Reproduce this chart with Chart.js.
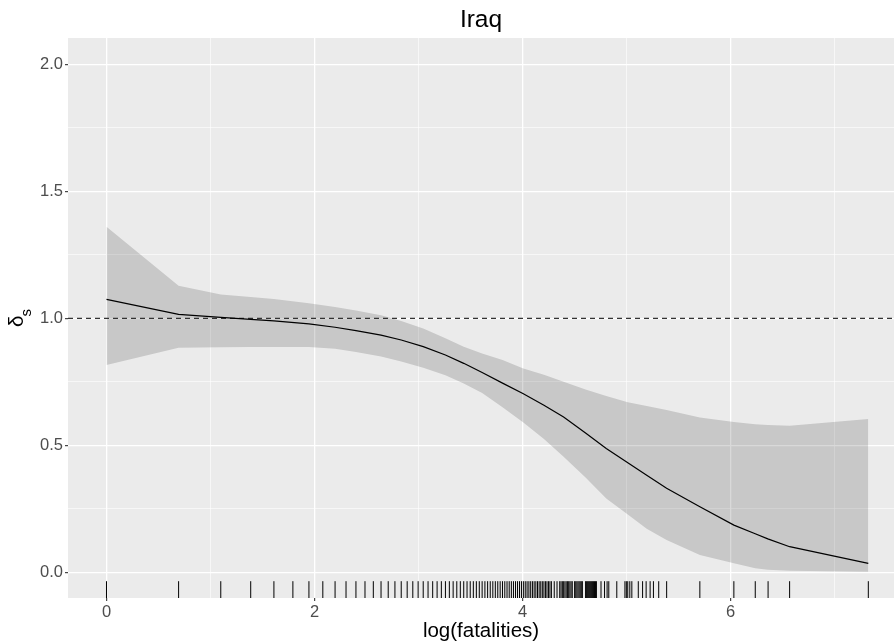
<!DOCTYPE html>
<html>
<head>
<meta charset="utf-8">
<script src="https://cdn.jsdelivr.net/npm/chart.js@4"></script>
<style>
    html, body { margin: 0; padding: 0; background: #ffffff; }
    #chart { display: block; }
</style>
</head>
<body>
<canvas id="chart" width="894" height="643"></canvas>
<script>
const TITLE = 'Iraq';
const X_TITLE = 'log(fatalities)';

// smoothed estimate and its band, read at the observed log(fatalities)
const curveX = [0.000, 0.693, 1.099, 1.386, 1.609, 1.946, 2.197, 2.398, 2.639, 2.833,
    3.045, 3.258, 3.434, 3.611, 3.807, 4.007, 4.205, 4.394, 4.605, 4.804,
    5.011, 5.193, 5.384, 5.704, 6.031, 6.236, 6.357, 6.567, 7.323];
const curveFit = [1.075, 1.016, 1.004, 0.996, 0.990, 0.978, 0.965, 0.952, 0.934, 0.915,
    0.889, 0.856, 0.823, 0.787, 0.745, 0.703, 0.658, 0.612, 0.549, 0.488,
    0.432, 0.382, 0.331, 0.258, 0.186, 0.152, 0.132, 0.101, 0.035];
const curveLower = [0.816, 0.884, 0.886, 0.887, 0.887, 0.887, 0.880, 0.868, 0.850, 0.830,
    0.806, 0.776, 0.744, 0.706, 0.650, 0.590, 0.525, 0.455, 0.373, 0.291,
    0.228, 0.172, 0.127, 0.068, 0.036, 0.016, 0.010, 0.006, 0.002];
const curveUpper = [1.361, 1.128, 1.094, 1.084, 1.076, 1.060, 1.045, 1.031, 1.012, 0.990,
    0.960, 0.922, 0.888, 0.862, 0.836, 0.803, 0.778, 0.750, 0.720, 0.694,
    0.670, 0.655, 0.639, 0.610, 0.592, 0.583, 0.580, 0.577, 0.604];

// observed fatality counts shown in the rug
const rugFatalities = [
    1, 2, 3, 4, 5, 6, 7, 8, 9, 10, 11, 12, 13, 14, 15, 16, 17, 18, 19, 20,
    21, 22, 23, 24, 25, 26, 27, 28, 29, 30, 31, 32, 33, 34, 35, 36, 37, 38, 39, 40,
    41, 42, 43, 44, 45, 46, 47, 48, 49, 50, 51, 52, 53, 54, 55, 56, 57, 58, 59, 60,
    61, 62, 63, 64, 65, 66, 67, 68, 69, 70, 71, 72, 74, 76, 78, 79, 80,
    81, 82, 83, 84, 85, 86, 87, 88, 90, 91, 92, 93, 94, 95, 96, 97,
    100, 101, 102, 103, 104, 105, 106, 107, 108, 109, 110, 111,
    116, 120, 123, 125, 135, 146, 148, 150, 153, 156,
    166, 173, 179, 186, 192, 202, 218, 300, 416, 511, 578, 711, 1515,
];

const referenceLevel = 1;

const xMajorTicks = [0, 2, 4, 6];
const xMinorTicks = [1, 3, 5, 7];
const yMajorTicks = [0, 0.5, 1, 1.5, 2];
const yMinorTicks = [0.25, 0.75, 1.25, 1.75];

const X_MIN = -0.37;
const X_MAX = 7.57;
const Y_MIN = -0.101;
const Y_MAX = 2.104;

const RUG_FRACTION = 0.03;
const FONT = '"Liberation Sans", Arial, sans-serif';

function points(xs, ys) {
    return xs.map((x, i) => ({ x, y: ys[i] }));
}

function gridFor(majors) {
    return {
        color: '#ffffff',
        lineWidth: (ctx) => (majors.includes(ctx.tick?.value) ? 1.3 : 0.6),
        drawTicks: true,
        tickLength: 3,
        tickWidth: 1.1,
        tickColor: (ctx) => (majors.includes(ctx.tick?.value) ? '#333333' : 'rgba(0,0,0,0)'),
    };
}

const ggDecor = {
    id: 'ggDecor',
    beforeDraw(chart) {
        const { ctx, chartArea: a } = chart;
        ctx.save();
        ctx.fillStyle = '#ffffff';
        ctx.fillRect(0, 0, chart.width, chart.height);
        ctx.fillStyle = '#ebebeb';
        ctx.fillRect(a.left, a.top, a.right - a.left, a.bottom - a.top);
        ctx.restore();
    },
    afterDraw(chart) {
        const { ctx, chartArea: a } = chart;
        const cx = (a.left + a.right) / 2;
        const cy = (a.top + a.bottom) / 2;

        ctx.save();
        ctx.fillStyle = '#000000';
        ctx.textBaseline = 'alphabetic';
        ctx.textAlign = 'center';

        ctx.font = `24.5px ${FONT}`;
        ctx.fillText(TITLE, cx, 27);

        ctx.font = `20.5px ${FONT}`;
        ctx.fillText(X_TITLE, cx, 637);

        // y title: delta with subscript s, read bottom to top
        ctx.translate(23, cy);
        ctx.rotate(-Math.PI / 2);
        ctx.textAlign = 'left';
        ctx.font = `20.5px ${FONT}`;
        const dw = ctx.measureText('δ').width;
        ctx.fillText('δ', -9, 0);
        ctx.font = `15px ${FONT}`;
        ctx.fillText('s', -9 + dw - 1, 8);
        ctx.restore();
    },
};

const rugY = Y_MIN + (RUG_FRACTION / 2) * (Y_MAX - Y_MIN);

new Chart(document.getElementById('chart'), {
    type: 'line',
    data: {
        datasets: [
            {
                data: points(curveX, curveLower),
                borderColor: 'rgba(0,0,0,0)',
                borderWidth: 0,
                pointRadius: 0,
                fill: false,
                order: 4,
            },
            {
                data: points(curveX, curveUpper),
                borderColor: 'rgba(0,0,0,0)',
                borderWidth: 0,
                pointRadius: 0,
                backgroundColor: 'rgba(0,0,0,0.15)',
                fill: '-1',
                order: 3,
            },
            {
                data: [{ x: X_MIN, y: referenceLevel }, { x: X_MAX, y: referenceLevel }],
                borderColor: '#333333',
                borderWidth: 1.2,
                borderDash: [5, 4],
                pointRadius: 0,
                fill: false,
                order: 2,
            },
            {
                data: points(curveX, curveFit),
                borderColor: '#000000',
                borderWidth: 1.2,
                pointRadius: 0,
                tension: 0,
                fill: false,
                order: 1,
            },
            {
                data: rugFatalities.map((n) => ({ x: Math.log(n), y: rugY })),
                showLine: false,
                pointStyle: 'line',
                rotation: 90,
                pointRadius: 8.4,
                pointBorderColor: '#000000',
                pointBackgroundColor: '#000000',
                pointBorderWidth: 1,
                order: 0,
            },
        ],
    },
    options: {
        responsive: false,
        maintainAspectRatio: false,
        animation: false,
        devicePixelRatio: 1,
        layout: {
            autoPadding: false,
            padding: { top: 38, left: 0, right: 0, bottom: 0 },
        },
        plugins: {
            legend: { display: false },
            tooltip: { enabled: false },
            title: { display: false },
        },
        scales: {
            x: {
                type: 'linear',
                min: X_MIN,
                max: X_MAX,
                border: { display: false },
                grid: gridFor(xMajorTicks),
                afterBuildTicks: (scale) => {
                    scale.ticks = [...xMajorTicks, ...xMinorTicks]
                        .sort((a, b) => a - b)
                        .map((value) => ({ value }));
                },
                afterFit: (scale) => {
                    scale.height = 45;
                    scale.paddingLeft = 0;
                    scale.paddingRight = 0;
                },
                ticks: {
                    color: '#4d4d4d',
                    font: { family: FONT, size: 16.5 },
                    padding: 2,
                    maxRotation: 0,
                    autoSkip: false,
                    callback: (value) => (xMajorTicks.includes(value) ? String(value) : ''),
                },
            },
            y: {
                type: 'linear',
                min: Y_MIN,
                max: Y_MAX,
                border: { display: false },
                grid: gridFor(yMajorTicks),
                afterBuildTicks: (scale) => {
                    scale.ticks = [...yMajorTicks, ...yMinorTicks]
                        .sort((a, b) => a - b)
                        .map((value) => ({ value }));
                },
                afterFit: (scale) => {
                    scale.width = 68;
                    scale.paddingTop = 0;
                    scale.paddingBottom = 0;
                },
                ticks: {
                    color: '#4d4d4d',
                    font: { family: FONT, size: 16.5 },
                    padding: 2,
                    autoSkip: false,
                    callback: (value) => (yMajorTicks.includes(value) ? value.toFixed(1) : ''),
                },
            },
        },
    },
    plugins: [ggDecor],
});
</script>
</body>
</html>
